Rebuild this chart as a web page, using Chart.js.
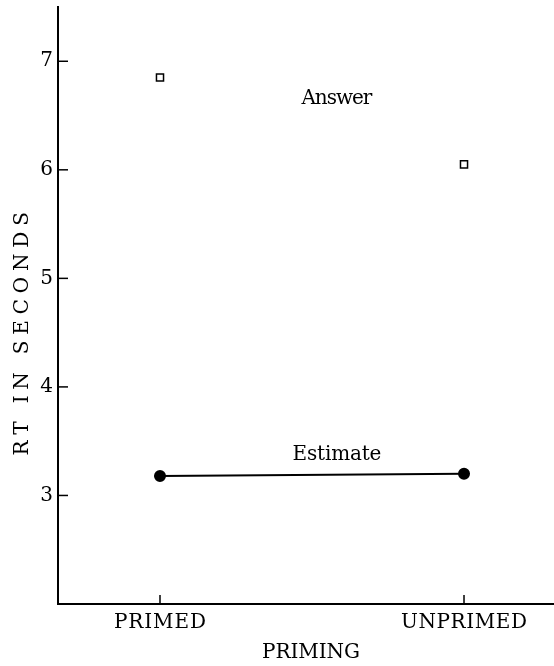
<!doctype html>
<html lang="en">
  <head>
    <meta charset="UTF-8">
    <title>RT by priming</title>
    <script src="https://cdn.jsdelivr.net/npm/chart.js@4.4.1/dist/chart.umd.min.js"></script>
    <style>
      html, body { margin:0; padding:0; background:#fff; }
      #wrap { width:554px; height:666px; }
    </style>
  </head>
  <body>
    <div id="wrap"><canvas id="chart"></canvas></div>
    <script>
      // data
      var categories = ["PRIMED", "UNPRIMED"];
      var answerRT   = [6.85, 6.05];
      var estimateRT = [3.18, 3.20];
      var yTicks     = [3, 4, 5, 6, 7];
      var seriesNames = ["Answer", "Estimate"];
      // where the series names sit (in data units)
      var nameSpots = [{x:0.582, y:6.65}, {x:0.582, y:3.37}];

      var serif = "'DejaVu Serif', 'Liberation Serif', serif";
      var textFont = "20px " + serif;

      // draw a string centred at cx,cy spread out to a given width
      function spaced(ctx, txt, cx, cy, width) {
        var plain = ctx.measureText(txt).width;
        var gap = txt.length > 1 ? (width - plain) / (txt.length - 1) : 0;
        var x = cx - width / 2;
        ctx.textAlign = 'left';
        for (var i = 0; i < txt.length; i++) {
          ctx.fillText(txt[i], x, cy);
          x += ctx.measureText(txt[i]).width + gap;
        }
      }

      var extras = {
        id: 'extras',
        afterDraw: function(chart) {
          var ctx = chart.ctx, xs = chart.scales.x, ys = chart.scales.y;
          var a = chart.chartArea;
          ctx.save();
          ctx.strokeStyle = '#000';
          ctx.lineWidth = 1.5;
          yTicks.forEach(function(v) {
            var py = ys.getPixelForValue(v);
            ctx.beginPath(); ctx.moveTo(a.left, py); ctx.lineTo(a.left + 10, py); ctx.stroke();
          });
          categories.forEach(function(c, i) {
            var px = xs.getPixelForValue(i);
            ctx.beginPath(); ctx.moveTo(px, a.bottom); ctx.lineTo(px, a.bottom - 9); ctx.stroke();
          });
          ctx.fillStyle = '#000';
          ctx.textBaseline = 'middle';
          ctx.font = textFont;
          // category labels
          spaced(ctx, categories[0], xs.getPixelForValue(0), a.bottom + 19, 92);
          spaced(ctx, categories[1], xs.getPixelForValue(1), a.bottom + 19, 126);
          // series names
          spaced(ctx, seriesNames[0], xs.getPixelForValue(nameSpots[0].x), ys.getPixelForValue(nameSpots[0].y), 71);
          spaced(ctx, seriesNames[1], xs.getPixelForValue(nameSpots[1].x), ys.getPixelForValue(nameSpots[1].y), 89);
          // axis titles
          spaced(ctx, "PRIMING", 311, 653, 98);
          ctx.translate(23, 334);
          ctx.rotate(-Math.PI / 2);
          spaced(ctx, "RT IN SECONDS", 0, 0, 243);
          ctx.restore();
        }
      };

      new Chart(document.getElementById('chart'), {
        type: 'scatter',
        data: {
          datasets: [
            {
              label: seriesNames[0],
              data: answerRT.map(function(v, i) { return {x:i, y:v}; }),
              pointStyle: 'rect',
              pointRadius: 5,
              pointBorderWidth: 1.5,
              borderColor: '#000',
              backgroundColor: '#fff',
              showLine: false
            },
            {
              label: seriesNames[1],
              data: estimateRT.map(function(v, i) { return {x:i, y:v}; }),
              pointStyle: 'circle',
              pointRadius: 5,
              borderColor: '#000',
              backgroundColor: '#000',
              borderWidth: 2,
              showLine: true
            }
          ]
        },
        options: {
          responsive: true,
          maintainAspectRatio: false,
          animation: false,
          layout: { autoPadding: false, padding: { top: 7, right: 0, left: 0, bottom: 0 } },
          plugins: { legend: { display:false }, tooltip: { enabled:false } },
          scales: {
            x: {
              type: 'linear',
              min: -0.3355, max: 1.296,
              afterFit: function(s) { s.height = 62; s.paddingLeft = 0; s.paddingRight = 0; },
              ticks: { display:false },
              grid: { display:false, drawTicks:false },
              border: { color:'#000', width:2 }
            },
            y: {
              min: 2, max: 7.5,
              afterBuildTicks: function(s) { s.ticks = yTicks.map(function(v) { return {value:v}; }); },
              afterFit: function(s) { s.width = 58; s.paddingTop = 0; s.paddingBottom = 0; },
              ticks: { color:'#000', font: { family: serif, size: 20 }, padding: 5 },
              grid: { display:false, drawTicks:false },
              border: { color:'#000', width:2 }
            }
          }
        },
        plugins: [extras]
      });
    </script>
  </body>
</html>
